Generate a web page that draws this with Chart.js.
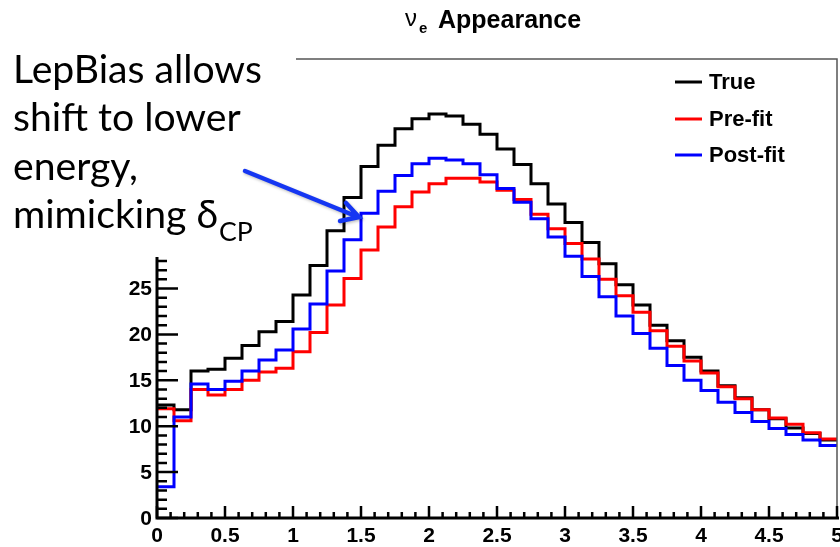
<!DOCTYPE html>
<html>
<head>
<meta charset="utf-8">
<script src="https://cdn.jsdelivr.net/npm/chart.js@4.4.0/dist/chart.umd.min.js"></script>
<style>
  html, body { margin: 0; padding: 0; background: #fff; }
</style>
</head>
<body>
<canvas id="chart_nueAppearance" width="840" height="547"></canvas>
<script>
// histogram binning: 40 bins between 0 and 5
var binLow = 0, binHigh = 5, nBins = 40;

var trueCounts = [
  12.3, 11.8, 16.0, 16.2, 17.4, 18.8, 20.3, 21.4, 24.3, 27.5,
  31.3, 34.9, 38.3, 40.6, 42.4, 43.5, 44.0, 43.8, 42.9, 41.8,
  40.2, 38.5, 36.4, 34.2, 32.2, 30.0, 27.7, 25.4, 23.2, 21.0,
  19.3, 17.5, 16.0, 14.4, 13.1, 11.8, 10.8, 9.8, 9.2, 8.5
];
var preFitCounts = [
  11.9, 10.6, 14.0, 13.4, 14.0, 15.0, 15.9, 16.3, 18.1, 20.2,
  23.2, 26.1, 29.2, 31.7, 33.9, 35.5, 36.4, 37.0, 37.0, 36.6,
  35.7, 34.7, 33.1, 31.5, 29.9, 28.2, 26.0, 24.2, 22.4, 20.4,
  18.7, 17.1, 15.8, 14.3, 13.0, 11.8, 10.9, 10.2, 9.3, 8.6
];
var postFitCounts = [
  3.4, 11.0, 14.6, 14.0, 14.9, 16.0, 17.2, 18.3, 20.6, 23.3,
  26.9, 30.3, 33.2, 35.6, 37.3, 38.6, 39.2, 39.0, 38.6, 37.4,
  35.9, 34.4, 32.6, 30.6, 28.5, 26.3, 24.1, 22.0, 20.1, 18.5,
  16.6, 15.0, 13.9, 12.6, 11.5, 10.5, 9.75, 9.1, 8.5, 7.9
];

var xTicks = [0, 0.5, 1, 1.5, 2, 2.5, 3, 3.5, 4, 4.5, 5];
var yTicks = [0, 5, 10, 15, 20, 25];
var seriesLabels = ['True', 'Pre-fit', 'Post-fit'];
var seriesColors = ['#000000', '#ff0000', '#0000ff'];

function histPoints(counts) {
  var w = (binHigh - binLow) / nBins;
  var pts = counts.map(function (v, i) { return { x: binLow + i * w, y: v }; });
  pts.push({ x: binHigh, y: counts[counts.length - 1] });
  return pts;
}

function histDataset(i, counts, order) {
  return {
    label: seriesLabels[i],
    data: histPoints(counts),
    borderColor: seriesColors[i],
    borderWidth: 3,
    pointRadius: 0,
    stepped: true,
    fill: false,
    clip: false,
    order: order
  };
}

var tickFont = 'bold 21px "Liberation Sans", Arial, sans-serif';

var rootFrame = {
  id: 'rootFrame',
  beforeDraw: function (chart) {
    var ctx = chart.ctx;
    ctx.save();
    ctx.fillStyle = 'white';
    ctx.fillRect(0, 0, chart.width, chart.height);
    ctx.restore();
  },
  afterDraw: function (chart) {
    var ctx = chart.ctx, a = chart.chartArea;
    var xs = chart.scales.x, ys = chart.scales.y;
    ctx.save();

    // thin frame (top/right)
    ctx.strokeStyle = '#555';
    ctx.lineWidth = 1.5;
    ctx.strokeRect(a.left, a.top, a.right - a.left, a.bottom - a.top);

    // axes
    ctx.strokeStyle = '#000';
    ctx.lineWidth = 3;
    ctx.beginPath();
    ctx.moveTo(a.left, a.top);
    ctx.lineTo(a.left, a.bottom);
    ctx.lineTo(a.right + 2, a.bottom);
    ctx.stroke();

    // x ticks (inside), 5 subdivisions per major
    ctx.lineWidth = 2.5;
    ctx.beginPath();
    for (var i = 0; i <= 50; i++) {
      var px = xs.getPixelForValue(i / 10);
      var len = (i % 5 === 0) ? 12 : 6;
      ctx.moveTo(px, a.bottom);
      ctx.lineTo(px, a.bottom - len);
    }
    // y ticks (inside)
    for (var j = 0; j <= 50; j++) {
      var py = ys.getPixelForValue(j);
      var ylen = (j % 5 === 0) ? 21 : 10;
      ctx.moveTo(a.left, py);
      ctx.lineTo(a.left + ylen, py);
    }
    ctx.stroke();

    // tick labels
    ctx.fillStyle = '#000';
    ctx.font = tickFont;
    ctx.textAlign = 'center';
    ctx.textBaseline = 'alphabetic';
    xTicks.forEach(function (v) {
      ctx.fillText(String(v), xs.getPixelForValue(v), a.bottom + 24);
    });
    ctx.textAlign = 'right';
    ctx.textBaseline = 'middle';
    yTicks.forEach(function (v) {
      ctx.fillText(String(v), a.left - 5, ys.getPixelForValue(v) + 1);
    });

    // title: nu_e Appearance
    ctx.textAlign = 'left';
    ctx.textBaseline = 'alphabetic';
    ctx.font = '24px "Liberation Sans", Arial, sans-serif';
    ctx.fillText('\u03BD', 405, 26);
    ctx.font = 'bold 15px "Liberation Sans", Arial, sans-serif';
    ctx.fillText('e', 419, 33);
    ctx.font = 'bold 25px "Liberation Sans", Arial, sans-serif';
    ctx.fillText('Appearance', 438, 28);

    // legend
    var lx = a.right - 162;
    ctx.font = 'bold 22px "Liberation Sans", Arial, sans-serif';
    ctx.textBaseline = 'middle';
    [23, 60, 96].forEach(function (dy, k) {
      var ly = a.top + dy;
      ctx.strokeStyle = seriesColors[k];
      ctx.lineWidth = 3;
      ctx.beginPath();
      ctx.moveTo(lx, ly);
      ctx.lineTo(lx + 27, ly);
      ctx.stroke();
      ctx.fillStyle = '#000';
      ctx.fillText(seriesLabels[k], lx + 34, ly + 1);
    });

    // annotation box over the upper-left corner
    ctx.fillStyle = '#fff';
    ctx.fillRect(0, 0, 296, 257);
    ctx.fillStyle = '#000';
    ctx.textBaseline = 'alphabetic';
    var face = 'Lato, "Open Sans", sans-serif';
    ctx.font = '100px ' + face;
    var size = 100 * 249 / ctx.measureText('LepBias allows').width;
    ctx.font = size + 'px ' + face;
    ctx.fillText('LepBias allows', 13, 83);
    ctx.fillText('shift to lower', 13, 131);
    ctx.fillText('energy,', 13, 180);
    ctx.fillText('mimicking \u03B4', 13, 228);
    var wM = ctx.measureText('mimicking \u03B4').width;
    ctx.font = (size * 0.68) + 'px ' + face;
    ctx.fillText('CP', 13 + wM + 1, 241);

    // arrow
    ctx.strokeStyle = '#1536f2';
    ctx.lineWidth = 4.5;
    ctx.lineCap = 'round';
    ctx.shadowColor = 'rgba(0,0,0,0.25)';
    ctx.shadowBlur = 3;
    ctx.shadowOffsetX = 1;
    ctx.shadowOffsetY = 1.5;
    ctx.beginPath();
    ctx.moveTo(245, 171);
    ctx.lineTo(358, 217);
    ctx.moveTo(346, 203);
    ctx.lineTo(359, 217);
    ctx.lineTo(340, 221);
    ctx.stroke();
    ctx.restore();
  }
};

var chart_nueAppearance = new Chart(document.getElementById('chart_nueAppearance'), {
  type: 'line',
  data: {
    datasets: [
      histDataset(0, trueCounts, 3),
      histDataset(1, preFitCounts, 2),
      histDataset(2, postFitCounts, 1)
    ]
  },
  options: {
    animation: false,
    responsive: false,
    layout: { padding: { left: 157, right: 3, top: 59, bottom: 29 } },
    plugins: {
      legend: { display: false },
      title: { display: false },
      tooltip: { enabled: false }
    },
    scales: {
      x: { type: 'linear', min: 0, max: 5, display: false },
      y: { type: 'linear', min: 0, max: 50, display: false }
    }
  },
  plugins: [rootFrame]
});
</script>
</body>
</html>
